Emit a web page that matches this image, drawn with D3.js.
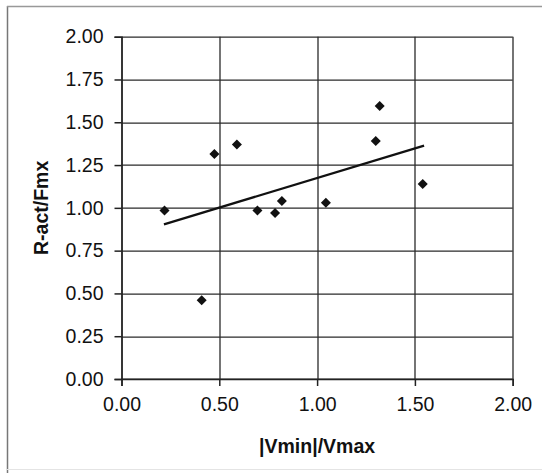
<!DOCTYPE html>
<html>
<head>
<meta charset="utf-8">
<script src="https://cdn.jsdelivr.net/npm/d3@7"></script>
<style>
  body { margin: 0; background: #fff; }
  text { font-family: "Liberation Sans", Arial, sans-serif; fill: #111; }
  .axisTitle { font-size: 19.5px; font-weight: bold; }
</style>
</head>
<body>
<div id="chart"></div>
<script>
// values
var ratioX = [0.22, 0.41, 0.475, 0.59, 0.695, 0.785, 0.82, 1.045, 1.30, 1.32, 1.54];
var ratioY = [0.985, 0.46, 1.315, 1.37, 0.985, 0.97, 1.04, 1.03, 1.39, 1.595, 1.14];
var trendX = [0.217, 1.547];
var trendY = [0.904, 1.363];
var tickValues = [0, 0.25, 0.5, 0.75, 1, 1.25, 1.5, 1.75, 2];
var xTickValues = [0, 0.5, 1, 1.5, 2];

var margin = { top: 36.7, right: 29.3, bottom: 94, left: 121.5 },
    width = 542 - margin.left - margin.right,
    height = 473 - margin.top - margin.bottom;

var svg = d3.select("#chart")
    .append("svg")
    .attr("width", 542)
    .attr("height", 473);

// outer frame (scanned page border)
svg.append("line").attr("x1", 7.5).attr("y1", 6).attr("x2", 7.5).attr("y2", 473)
    .attr("stroke", "#777").attr("stroke-width", 1.5);
svg.append("line").attr("x1", 7).attr("y1", 6.5).attr("x2", 542).attr("y2", 6.5)
    .attr("stroke", "#999").attr("stroke-width", 1.5);
svg.append("line").attr("x1", 7).attr("y1", 469.5).attr("x2", 542).attr("y2", 469.5)
    .attr("stroke", "#e4e4e4").attr("stroke-width", 1);

var plot = svg.append("g")
    .attr("transform", "translate(" + margin.left + "," + margin.top + ")");

var xScale = d3.scaleLinear().domain([0, 2]).range([0, width]);
var yScale = d3.scaleLinear().domain([0, 2]).range([height, 0]);

// gridlines
plot.append("g")
    .selectAll("line.h")
    .data(tickValues)
    .enter()
    .append("line")
    .attr("x1", 0)
    .attr("x2", width)
    .attr("y1", function(d) { return Math.round(yScale(d)) + 0.5; })
    .attr("y2", function(d) { return Math.round(yScale(d)) + 0.5; })
    .attr("stroke", "#2a2a2a")
    .attr("stroke-width", 1.3);

plot.append("g")
    .selectAll("line.v")
    .data(xTickValues)
    .enter()
    .append("line")
    .attr("y1", 0)
    .attr("y2", height)
    .attr("x1", function(d) { return Math.round(xScale(d)) + 0.5; })
    .attr("x2", function(d) { return Math.round(xScale(d)) + 0.5; })
    .attr("stroke", "#2a2a2a")
    .attr("stroke-width", 1.3);

// axes
var yAxis = plot.append("g")
    .call(d3.axisLeft(yScale).tickValues(tickValues).tickFormat(d3.format(".2f")).tickSize(7).tickPadding(11));
var xAxis = plot.append("g")
    .attr("transform", "translate(0," + height + ")")
    .call(d3.axisBottom(xScale).tickValues(xTickValues).tickFormat(d3.format(".2f")).tickSize(7).tickPadding(11));

[yAxis, xAxis].forEach(function(a) {
    a.select(".domain").attr("stroke", "#222").attr("stroke-width", 1.5);
    a.selectAll(".tick line").attr("stroke", "#222").attr("stroke-width", 1.5);
    a.selectAll(".tick text").style("font-size", "19.5px").style("font-family", "Liberation Sans, Arial, sans-serif").attr("fill", "#111");
});

// trend line
var line = d3.line()
    .x(function(d) { return xScale(d[0]); })
    .y(function(d) { return yScale(d[1]); });

plot.append("path")
    .datum(d3.zip(trendX, trendY))
    .attr("d", line)
    .attr("fill", "none")
    .attr("stroke", "#111")
    .attr("stroke-width", 2.3);

// diamond markers
var points = d3.zip(ratioX, ratioY);
plot.selectAll("path.pt")
    .data(points)
    .enter()
    .append("path")
    .attr("class", "pt")
    .attr("d", d3.symbol().type(d3.symbolDiamond2).size(64))
    .attr("transform", function(d) {
        return "translate(" + xScale(d[0]) + "," + yScale(d[1]) + ")";
    })
    .attr("fill", "#111");

// axis titles
svg.append("text")
    .attr("class", "axisTitle")
    .attr("x", margin.left + width / 2)
    .attr("y", 453)
    .attr("text-anchor", "middle")
    .text("|Vmin|/Vmax");

svg.append("text")
    .attr("class", "axisTitle")
    .attr("transform", "translate(48," + (margin.top + height / 2) + ") rotate(-90)")
    .attr("text-anchor", "middle")
    .text("R-act/Fmx");
</script>
</body>
</html>
